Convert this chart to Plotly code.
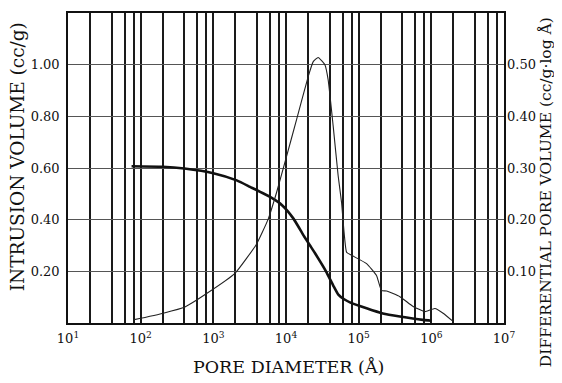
import plotly.graph_objects as go

# ---- data ----
intrusion_diam = [75, 200, 400, 1000, 2100, 3200, 6200, 8900, 12600, 17800, 21400,
                  25100, 35500, 44700, 52500, 63100, 75900, 128500, 215000, 369000,
                  764000, 1000000]
intrusion_vol = [0.607, 0.605, 0.598, 0.580, 0.552, 0.527, 0.486, 0.455, 0.405, 0.335, 0.300,
                 0.270, 0.200, 0.145, 0.110, 0.092, 0.080, 0.057, 0.037, 0.025,
                 0.012, 0.009]

diff_diam = [79, 205, 406, 809, 1980, 3940, 5690, 7430, 10200, 14000, 20200, 23700,
             27700, 34300, 38000, 44600, 52200, 58200, 68200, 79900, 128500, 176000,
             206000, 242000, 369000, 562000, 815000, 1117000, 1453000, 1995000]
diff_vol = [0.006, 0.019, 0.031, 0.057, 0.096, 0.153, 0.201, 0.253, 0.323, 0.394, 0.477, 0.506,
            0.514, 0.500, 0.471, 0.381, 0.285, 0.233, 0.137, 0.131, 0.115, 0.092,
            0.063, 0.062, 0.051, 0.032, 0.022, 0.028, 0.019, 0.003]

x_grid_vals = [m * 10 ** e for e in range(1, 7) for m in (1, 2, 4, 6, 8)] + [10 ** 7]
x_decade_labels = {10 ** e: "10<sup>%d</sup>" % e for e in range(1, 8)}
x_tick_text = [x_decade_labels.get(v, "") for v in x_grid_vals]

y_left_vals = [0.2, 0.4, 0.6, 0.8, 1.0]
y_left_text = ["0.20", "0.40", "0.60", "0.80", "1.00"]
y_right_vals = [0.1, 0.2, 0.3, 0.4, 0.5]
y_right_text = ["0.10", "0.20", "0.30", "0.40", "0.50"]

x_title = "PORE DIAMETER (Å)"
y_title = "INTRUSION VOLUME (cc/g)"
y2_title = "DIFFERENTIAL PORE VOLUME (cc/g·log Å)"

FONT = "DejaVu Serif"

fig = go.Figure()
fig.add_trace(go.Scatter(x=intrusion_diam, y=intrusion_vol, mode="lines",
                         line=dict(color="#111", width=2.6, shape="spline", smoothing=0.5),
                         showlegend=False, yaxis="y"))
fig.add_trace(go.Scatter(x=diff_diam, y=diff_vol, mode="lines",
                         line=dict(color="#222", width=1.1, shape="spline", smoothing=0.4),
                         showlegend=False, yaxis="y2"))

fig.update_layout(
    width=554, height=375,
    margin=dict(l=60, r=58, t=5, b=60),
    paper_bgcolor="white", plot_bgcolor="white",
    font=dict(family=FONT, size=13, color="#111"),
    xaxis=dict(type="log", range=[1, 7], tickmode="array", tickvals=x_grid_vals,
               ticktext=x_tick_text, showgrid=True, gridcolor="#1a1a1a", gridwidth=1.5,
               showline=True, linecolor="#111", linewidth=1.6, mirror=True,
               ticks="", ticklabelstandoff=3, zeroline=False, automargin=False,
               tickfont=dict(family=FONT, size=13)),
    yaxis=dict(range=[0, 1.2], tickmode="array", tickvals=y_left_vals, ticktext=y_left_text,
               showgrid=True, gridcolor="#555", gridwidth=1.0,
               showline=True, linecolor="#111", linewidth=1.6, mirror=True,
               ticks="", ticklabelstandoff=4, zeroline=False, automargin=False,
               tickfont=dict(family=FONT, size=13)),
    yaxis2=dict(range=[0, 0.6], overlaying="y", side="right", tickmode="array",
                tickvals=y_right_vals, ticktext=y_right_text, showgrid=False,
                ticks="", ticklabelstandoff=2, zeroline=False, showline=False,
                automargin=False, tickfont=dict(family=FONT, size=13)),
    annotations=[
        dict(text=x_title, xref="paper", yref="paper", x=0.5046, y=-0.1435,
             xanchor="center", yanchor="middle", showarrow=False,
             font=dict(family=FONT, size=17.5, color="#111")),
        dict(text=y_title, xref="paper", yref="paper", x=-0.1165, y=0.535,
             xanchor="center", yanchor="middle", textangle=-90, showarrow=False,
             font=dict(family=FONT, size=18.5, color="#111")),
        dict(text=y2_title, xref="paper", yref="paper", x=1.097, y=-0.148,
             xanchor="center", yanchor="bottom", textangle=-90, showarrow=False,
             font=dict(family=FONT, size=15.5, color="#111")),
    ],
)

fig.write_html("out.html")
